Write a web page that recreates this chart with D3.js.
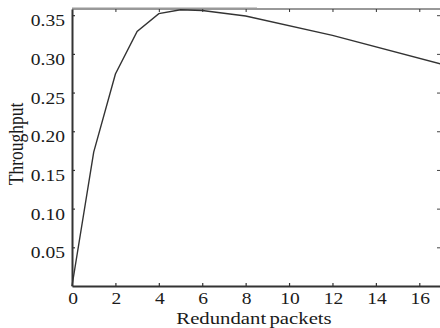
<!DOCTYPE html>
<html>
<head>
<meta charset="utf-8">
<script src="https://cdn.jsdelivr.net/npm/d3@7"></script>
<style>
  body { margin: 0; background: #fff; }
  text { font-family: "Liberation Serif", "Times New Roman", serif; fill: #1a1a1a; }
</style>
</head>
<body>
<div class="chart"></div>
<script>
var packets = [0, 1, 2, 3, 4, 5, 6, 8, 12, 17];
var throughput = [0, 0.173, 0.274, 0.329, 0.352, 0.357, 0.356, 0.349, 0.324, 0.287];
var xTicks = [0, 2, 4, 6, 8, 10, 12, 14, 16];
var yTicks = [0.05, 0.10, 0.15, 0.20, 0.25, 0.30, 0.35];

var width = 440, height = 328;
var stretch = 1.22;

var svg = d3.select('.chart')
  .append('svg')
  .attr('width', width)
  .attr('height', height);

var xScale = d3.scaleLinear().domain([0, 17]).range([72, 441]);
var yScale = d3.scaleLinear().domain([0, 0.358]).range([286, 9]);

// top frame line
svg.append('line')
  .attr('x1', xScale(0)).attr('x2', width)
  .attr('y1', yScale(0.358)).attr('y2', yScale(0.358))
  .attr('stroke', '#333').attr('stroke-width', 1);
svg.append('line')
  .attr('x1', xScale(0)).attr('x2', 257)
  .attr('y1', yScale(0.358) - 0.5).attr('y2', yScale(0.358) - 0.5)
  .attr('stroke', '#999').attr('stroke-width', 2);

// top ticks
svg.append('g')
  .attr('transform', `translate(0, ${yScale(0.358)})`)
  .call(d3.axisTop(xScale).tickValues(xTicks.slice(1)).tickSize(-3).tickSizeOuter(0).tickFormat(''))
  .call(g => g.select('.domain').remove())
  .selectAll('line').attr('stroke', '#333');

// right ticks
svg.append('g')
  .attr('transform', `translate(${xScale(17)}, 0)`)
  .call(d3.axisRight(yScale).tickValues(yTicks).tickSize(-4).tickSizeOuter(0).tickFormat(''))
  .call(g => g.select('.domain').remove())
  .selectAll('line').attr('stroke', '#444');

// bottom axis
svg.append('g')
  .attr('transform', `translate(0, ${yScale(0)})`)
  .call(d3.axisBottom(xScale).tickValues(xTicks.slice(1)).tickSize(-3).tickSizeOuter(0).tickFormat(''))
  .call(g => g.select('.domain').attr('stroke', '#333').attr('stroke-width', 2))
  .selectAll('.tick line').attr('stroke', '#333').attr('stroke-width', 1.2);

// left axis
svg.append('g')
  .attr('transform', `translate(${xScale(0)}, 0)`)
  .call(d3.axisLeft(yScale).tickValues(yTicks).tickSize(-3).tickSizeOuter(0).tickFormat(''))
  .call(g => g.select('.domain').attr('stroke', '#333').attr('stroke-width', 2))
  .selectAll('.tick line').attr('stroke', '#333').attr('stroke-width', 1.2);

// tick labels
svg.selectAll('.xlab')
  .data(xTicks)
  .enter()
  .append('text')
  .attr('class', 'xlab')
  .attr('transform', d => `translate(${xScale(d) + 1}, 304) scale(${stretch}, 1)`)
  .attr('text-anchor', 'middle')
  .style('font-size', '16px')
  .text(d => d);

svg.selectAll('.ylab')
  .data(yTicks)
  .enter()
  .append('text')
  .attr('class', 'ylab')
  .attr('transform', d => `translate(65, ${yScale(d) + 11}) scale(${stretch}, 1)`)
  .attr('text-anchor', 'end')
  .style('font-size', '16px')
  .text(d3.format('.2f'));

// axis titles
svg.append('text')
  .attr('transform', `translate(254, 324) scale(${stretch}, 1)`)
  .attr('text-anchor', 'middle')
  .style('font-size', '17px')
  .style('word-spacing', '-1.5px')
  .text('Redundant packets');

svg.append('text')
  .attr('transform', `translate(23, 144) scale(${stretch}, 1) rotate(-90)`)
  .attr('text-anchor', 'middle')
  .style('font-size', '17.5px')
  .text('Throughput');

// data line
var line = d3.line()
  .x((d, i) => xScale(packets[i]))
  .y(d => yScale(d));

svg.append('path')
  .datum(throughput)
  .attr('d', line)
  .attr('fill', 'none')
  .attr('stroke', '#333')
  .attr('stroke-width', 1.4);
</script>
</body>
</html>
